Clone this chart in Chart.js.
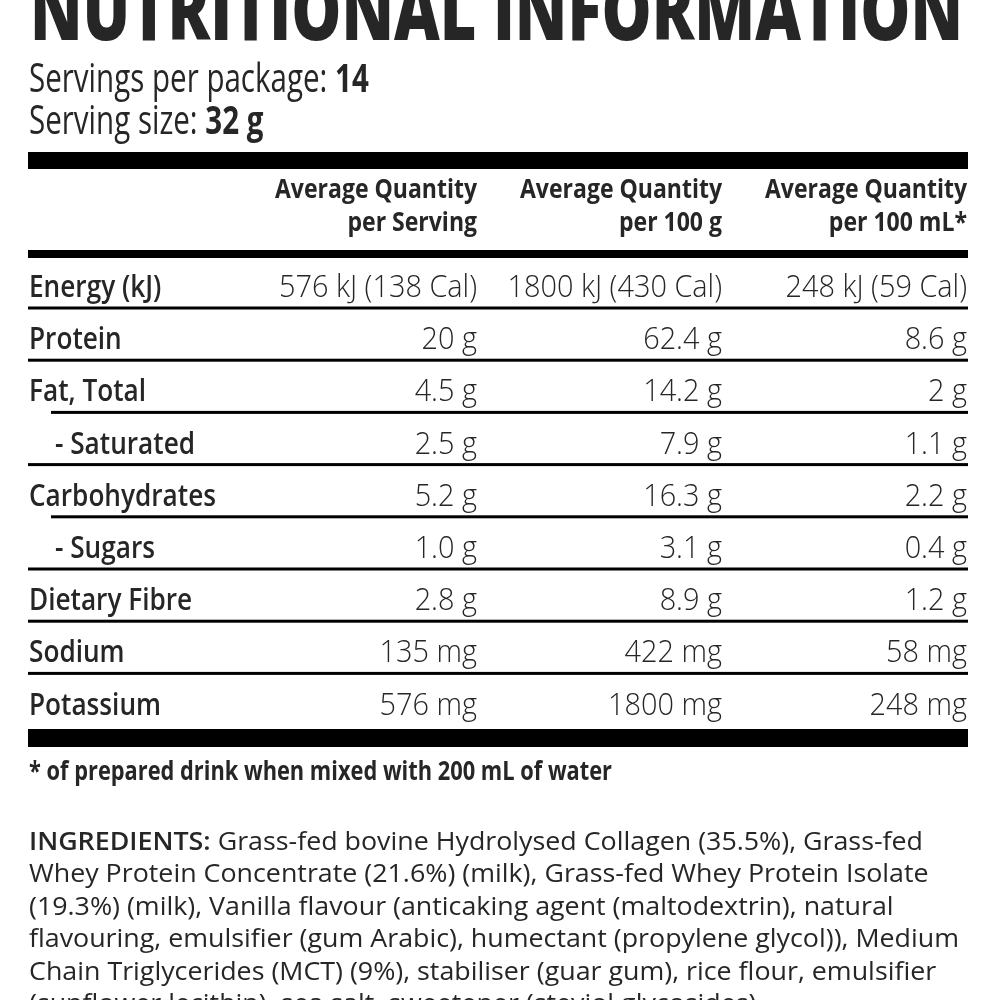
<!DOCTYPE html>
<html>
<head>
<meta charset="utf-8">
<script src="https://cdn.jsdelivr.net/npm/chart.js@4"></script>
<style>
  html, body { margin: 0; padding: 0; background: #fff; }
  #wrap { width: 1000px; height: 1000px; }
</style>
</head>
<body>
<div id="wrap"><canvas id="label" width="1000" height="1000"></canvas></div>
<script>
// table data
const title = 'NUTRITIONAL INFORMATION';
const servingsPerPackage = '14';
const servingSize = '32 g';
const headers = [['Average Quantity', 'per Serving'], ['Average Quantity', 'per 100 g'], ['Average Quantity', 'per 100 mL*']];
const nutrients = ['Energy (kJ)', 'Protein', 'Fat, Total', '- Saturated', 'Carbohydrates', '- Sugars', 'Dietary Fibre', 'Sodium', 'Potassium'];
const subRow = [false, false, false, true, false, true, false, false, false];
const perServing = ['576 kJ (138 Cal)', '20 g', '4.5 g', '2.5 g', '5.2 g', '1.0 g', '2.8 g', '135 mg', '576 mg'];
const per100g = ['1800 kJ (430 Cal)', '62.4 g', '14.2 g', '7.9 g', '16.3 g', '3.1 g', '8.9 g', '422 mg', '1800 mg'];
const per100mL = ['248 kJ (59 Cal)', '8.6 g', '2 g', '1.1 g', '2.2 g', '0.4 g', '1.2 g', '58 mg', '248 mg'];
const footnote = '* of prepared drink when mixed with 200 mL of water';
const ingredientsHead = 'INGREDIENTS:';
const ingredientLines = [
  ' Grass-fed bovine Hydrolysed Collagen (35.5%), Grass-fed',
  'Whey Protein Concentrate (21.6%) (milk), Grass-fed Whey Protein Isolate',
  '(19.3%) (milk), Vanilla flavour (anticaking agent (maltodextrin), natural',
  'flavouring, emulsifier (gum Arabic), humectant (propylene glycol)), Medium',
  'Chain Triglycerides (MCT) (9%), stabiliser (guar gum), rice flour, emulsifier',
  '(sunflower lecithin), sea salt, sweetener (steviol glycosides).'
];

const INK = '#262626';
const F = '"Open Sans", "Noto Sans", sans-serif';
const fonts = {
  title: '800 84px ' + F,
  intro: '400 40px ' + F,
  introB: '700 40px ' + F,
  head: '700 27px ' + F,
  label: '600 31px ' + F,
  value: '300 31px ' + F,
  foot: '700 27px ' + F,
  ingB: '600 25px ' + F,
  ing: '400 25px ' + F
};

function squeeze(ctx, font, sample, width) {
  ctx.font = font;
  return width / ctx.measureText(sample).width;
}

function text(ctx, s, x, y, font, sx, align) {
  ctx.save();
  ctx.font = font;
  ctx.fillStyle = INK;
  ctx.textAlign = align || 'left';
  ctx.textBaseline = 'alphabetic';
  ctx.translate(x, y);
  ctx.scale(sx, 1);
  ctx.fillText(s, 0, 0);
  let w = ctx.measureText(s).width * sx;
  ctx.restore();
  return w;
}

const labelPlugin = {
  id: 'labelPlugin',
  afterDraw(chart) {
    const ctx = chart.ctx;
    const X = v => chart.scales.x.getPixelForValue(v);
    const Y = v => chart.scales.y.getPixelForValue(v);
    const left = X(28), right = X(968);
    const cols = [X(477), X(722), X(967)];

    const bar = (y0, y1, x0) => {
      ctx.fillStyle = '#000';
      ctx.fillRect(x0 === undefined ? left : X(x0), Y(y0), right - (x0 === undefined ? left : X(x0)), Y(y1) - Y(y0));
    };

    // title
    let sTitle = squeeze(ctx, fonts.title, title, X(963) - X(30));
    text(ctx, title, X(30), Y(40), fonts.title, sTitle);

    // servings
    let sIntro = squeeze(ctx, fonts.intro, 'Servings per package: ', 306);
    let w = text(ctx, 'Servings per package: ', X(29), Y(92), fonts.intro, sIntro);
    text(ctx, servingsPerPackage, X(29) + w, Y(92), fonts.introB, sIntro);
    w = text(ctx, 'Serving size: ', X(29), Y(134), fonts.intro, sIntro);
    text(ctx, servingSize, X(29) + w, Y(134), fonts.introB, sIntro);

    // header
    bar(152, 169);
    let sHead = squeeze(ctx, fonts.head, 'Average Quantity', 202);
    headers.forEach((h, i) => {
      text(ctx, h[0], cols[i], Y(198), fonts.head, sHead, 'right');
      text(ctx, h[1], cols[i], Y(231), fonts.head, sHead, 'right');
    });
    bar(250, 258);

    // rows
    let sLabel = squeeze(ctx, fonts.label, 'Carbohydrates', 187);
    let sValue = squeeze(ctx, fonts.value, '576 kJ (138 Cal)', 198);
    const rowH = 52.2;
    nutrients.forEach((n, i) => {
      let base = 297 + i * rowH;
      text(ctx, n, X(subRow[i] ? 55 : 29), Y(base), fonts.label, sLabel);
      text(ctx, perServing[i], cols[0], Y(base), fonts.value, sValue, 'right');
      text(ctx, per100g[i], cols[1], Y(base), fonts.value, sValue, 'right');
      text(ctx, per100mL[i], cols[2], Y(base), fonts.value, sValue, 'right');
      if (i < nutrients.length - 1) {
        let ly = base + 9.5;
        bar(ly, ly + 3, subRow[i + 1] ? 51 : undefined);
      }
    });
    bar(729, 747);

    // footnote
    let sFoot = squeeze(ctx, fonts.foot, footnote, 583);
    text(ctx, footnote, X(29), Y(780), fonts.foot, sFoot);

    // ingredients
    ctx.font = fonts.ingB;
    let headW = ctx.measureText(ingredientsHead).width;
    ctx.font = fonts.ing;
    let sIng = 894 / (headW + ctx.measureText(ingredientLines[0]).width);
    ingredientLines.forEach((line, i) => {
      let y = Y(850 + i * 32.4);
      let x = X(29);
      if (i === 0) x += text(ctx, ingredientsHead, x, y, fonts.ingB, sIng);
      text(ctx, line, x, y, fonts.ing, sIng);
    });
  }
};

new Chart(document.getElementById('label'), {
  type: 'scatter',
  data: { datasets: [{ data: [] }] },
  options: {
    responsive: false,
    animation: false,
    devicePixelRatio: 1,
    layout: { padding: 0 },
    plugins: { legend: { display: false }, tooltip: { enabled: false } },
    scales: {
      x: { type: 'linear', min: 0, max: 1000, display: false },
      y: { type: 'linear', min: 0, max: 1000, reverse: true, display: false }
    }
  },
  plugins: [labelPlugin]
});
</script>
</body>
</html>
